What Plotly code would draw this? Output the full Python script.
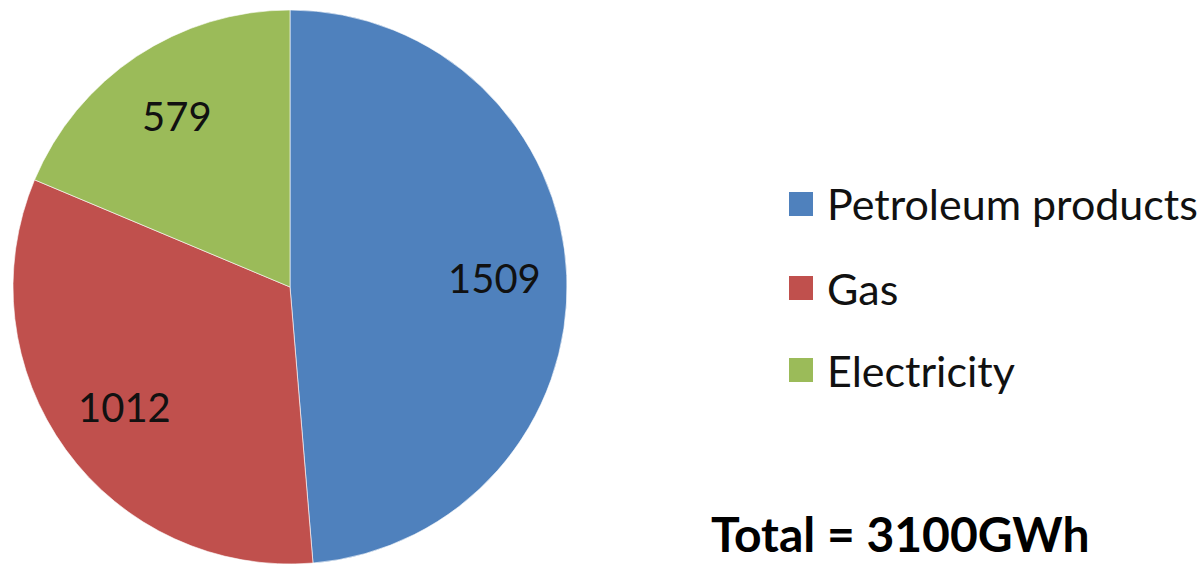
import math
import plotly.graph_objects as go

categories = ["Petroleum products", "Gas", "Electricity"]
values = [1509, 1012, 579]
colors = ["#4F81BD", "#C0504D", "#9BBB59"]
total_text = "Total = 3100GWh"

W, H = 1203, 564
CX, CY, R = 290, 287, 277  # pie centre / radius in pixels
LABEL_R = 0.74


def px(x):
    return x / W


def py(y):
    return 1 - y / H


fig = go.Figure(
    go.Pie(
        labels=categories,
        values=values,
        sort=False,
        direction="clockwise",
        rotation=0,
        marker=dict(colors=colors, line=dict(color="rgba(255,255,255,0.6)", width=1)),
        textinfo="none",
        domain=dict(x=[px(CX - R), px(CX + R)], y=[py(CY + R), py(CY - R)]),
        showlegend=False,
        hoverinfo="label+value",
    )
)

# value labels placed at the middle angle of each slice (computed from the data)
total = sum(values)
cum = 0
for v in values:
    mid = (cum + v / 2) / total * 2 * math.pi
    cum += v
    lx = CX + LABEL_R * R * math.sin(mid)
    ly = CY - LABEL_R * R * math.cos(mid)
    fig.add_annotation(
        x=px(lx), y=py(ly), xref="paper", yref="paper",
        text=str(v), showarrow=False, xanchor="center", yanchor="middle",
        font=dict(family="Lato", size=40, color="#111111"),
    )

# custom legend (large squares as in the reference)
legend_y = [204, 288, 370]
for name, col, yy in zip(categories, colors, legend_y):
    fig.add_shape(
        type="rect", xref="paper", yref="paper",
        x0=px(789), x1=px(813), y0=py(yy + 12), y1=py(yy - 12),
        fillcolor=col, line=dict(width=0),
    )
    fig.add_annotation(
        x=px(825), y=py(yy), xref="paper", yref="paper",
        text=name, showarrow=False, xanchor="left", yanchor="middle",
        font=dict(family="Lato", size=43, color="#111111"),
    )

fig.add_annotation(
    x=px(709), y=py(533), xref="paper", yref="paper",
    text="<b>" + total_text + "</b>", showarrow=False, xanchor="left", yanchor="middle",
    font=dict(family="Lato", size=48, color="black"),
)

fig.update_layout(
    width=W, height=H,
    margin=dict(l=0, r=0, t=0, b=0),
    paper_bgcolor="white", plot_bgcolor="white",
)

fig.write_html("out.html")
